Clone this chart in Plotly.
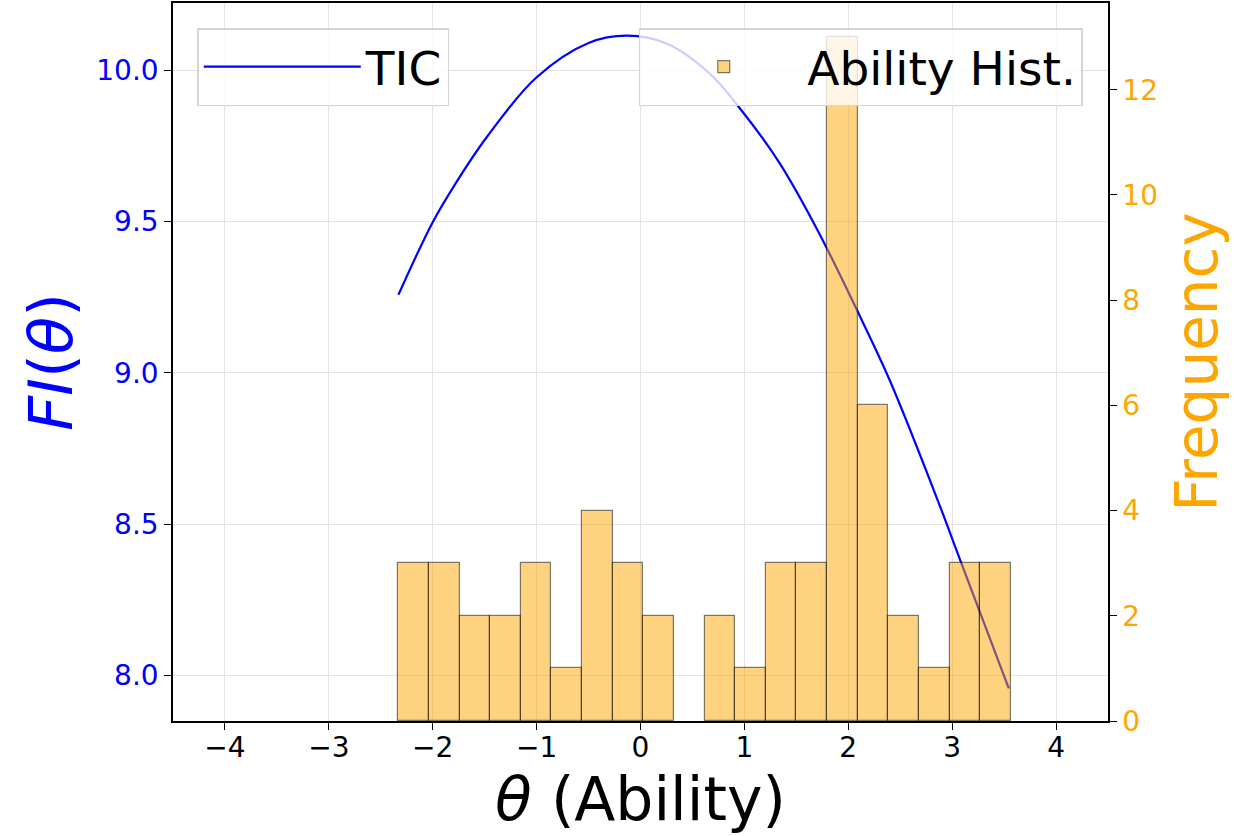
import plotly.graph_objects as go

# ---- data ----
theta_curve = [-2.33, -2.0, -1.776, -1.486, -1.005, -0.50, -0.13, 0.25, 0.665, 0.986,
               1.339, 1.708, 2.08, 2.40, 2.86, 3.09, 3.545]
tic_values = [9.258, 9.498, 9.628, 9.776, 9.975, 10.09, 10.114, 10.088, 9.989, 9.861,
              9.693, 9.469, 9.21, 8.975, 8.58, 8.37, 7.958]

hist_start = -2.331
hist_bin_width = 0.2948
hist_counts = [3, 3, 2, 2, 3, 1, 4, 3, 2, 0, 2, 1, 3, 3, 13, 6, 2, 1, 3, 3]

x_ticks = [-4, -3, -2, -1, 0, 1, 2, 3, 4]
left_ticks = [8.0, 8.5, 9.0, 9.5, 10.0]
right_ticks = [0, 2, 4, 6, 8, 10, 12]

x_range = [-4.5, 4.5]
left_range = [7.850, 10.222]
right_range = [0, 13.65]

bin_centers = [hist_start + (i + 0.5) * hist_bin_width for i in range(len(hist_counts))]
edge_widths = [1.2 if c > 0 else 0 for c in hist_counts]

FONT = "DejaVu Sans"
ORANGE = "#FFA500"

fig = go.Figure()
fig.add_trace(go.Scatter(
    x=theta_curve, y=tic_values, mode="lines", name="TIC",
    line=dict(color="#0000FF", width=2.2, shape="spline", smoothing=1.0),
    yaxis="y", legend="legend",
))
fig.add_trace(go.Bar(
    x=bin_centers, y=hist_counts, width=[hist_bin_width] * len(hist_counts),
    name="Ability Hist.",
    marker=dict(color="rgba(255,165,0,0.5)",
                line=dict(color="rgba(0,0,0,0.5)", width=edge_widths)),
    yaxis="y2", legend="legend2",
))

fig.update_layout(
    width=1234, height=836,
    margin=dict(l=173, r=126, t=1, b=115, pad=0),
    paper_bgcolor="white", plot_bgcolor="white",
    font=dict(family=FONT, size=28, color="black"),
    bargap=0,
    xaxis=dict(
        range=x_range, tickvals=x_ticks, ticks="outside", ticklen=7, tickwidth=1.3,
        tickcolor="black", showline=True, linecolor="black", linewidth=1.5, mirror=True,
        showgrid=True, gridcolor="#e3e3e3", gridwidth=1, zeroline=False,
        tickfont=dict(size=28, color="black"), ticklabelstandoff=-6,
        title=dict(text="<i>θ</i> (Ability)", font=dict(size=60, color="black"), standoff=14),
    ),
    yaxis=dict(
        range=left_range, tickvals=left_ticks, tickformat=".1f", ticks="outside", ticklen=7,
        tickwidth=1.3, tickcolor="black", showline=True, linecolor="black", linewidth=1.5,
        showgrid=True, gridcolor="#e3e3e3", gridwidth=1, zeroline=False,
        tickfont=dict(size=28, color="#0000FF"),
        title=dict(text="<i>FI</i>(<i>θ</i>)", font=dict(size=61, color="#0000FF"), standoff=4),
    ),
    yaxis2=dict(
        range=right_range, tickvals=right_ticks, overlaying="y", side="right",
        ticks="outside", ticklen=7, tickwidth=1.3, tickcolor="black",
        showline=True, linecolor="black", linewidth=1.5, showgrid=False, zeroline=False,
        tickfont=dict(size=28, color=ORANGE),
        title=dict(text="Frequency", font=dict(size=58, color=ORANGE), standoff=19),
    ),
    legend=dict(
        x=0.026, y=0.965, xanchor="left", yanchor="top",
        bgcolor="rgba(255,255,255,0.8)", bordercolor="#d5d5d5", borderwidth=1.5,
        font=dict(size=47, color="black"), itemwidth=157,
    ),
    legend2=dict(
        x=0.973, y=0.965, xanchor="right", yanchor="top",
        bgcolor="rgba(255,255,255,0.8)", bordercolor="#d5d5d5", borderwidth=1.5,
        font=dict(size=47, color="black"), itemwidth=157,
    ),
    showlegend=True,
)

fig.write_html("out.html", config={"displayModeBar": False},
               post_script="document.body.style.margin='0';")
